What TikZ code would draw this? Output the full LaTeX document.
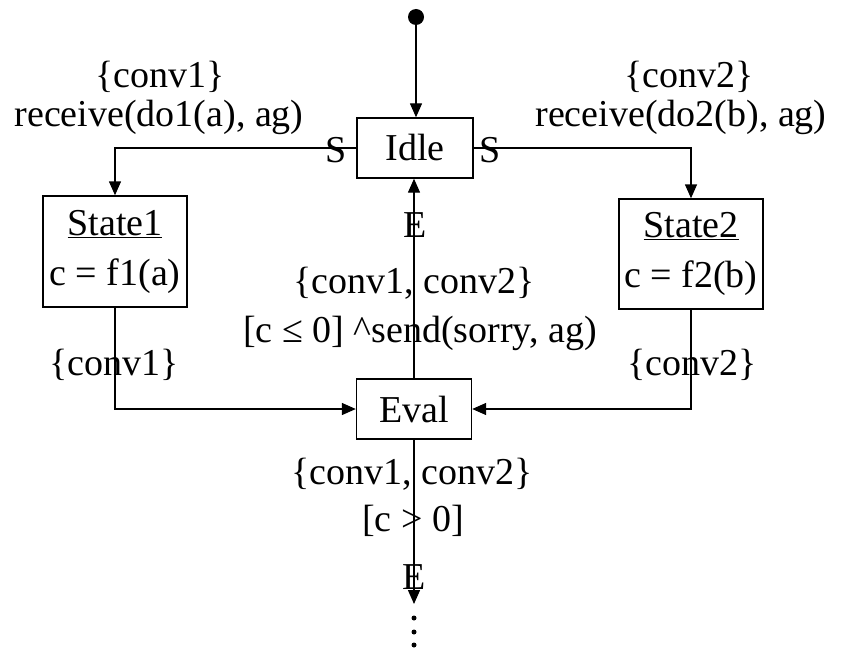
\documentclass[tikz,border=0pt]{standalone}
\usepackage{fontspec}
\setmainfont{Liberation Serif}
\usetikzlibrary{arrows.meta}
\begin{document}
\begin{tikzpicture}[x=1pt,y=-1pt,
  box/.style={draw, line width=1.4pt, rectangle, inner sep=0pt, font=\fontsize{38}{50}\selectfont, align=center},
  lbl/.style={inner sep=0pt, font=\fontsize{38}{44}\selectfont, align=center},
  arr/.style={line width=1.4pt, -{Triangle[length=14pt,width=12pt]}},
  dotn/.style={circle, fill=black, inner sep=0pt}]
\useasboundingbox (0,0) rectangle (842,650);

\node[dotn, minimum size=16pt] (init) at (416,17) {};
\node[box, minimum width=116pt, minimum height=60pt] (idle) at (415,148) {Idle};
\node[box, minimum width=144pt, minimum height=111pt] (s1) at (115,251.5) {\underline{State1}\\c = f1(a)};
\node[box, minimum width=144pt, minimum height=110pt] (s2) at (691,254) {\underline{State2}\\c = f2(b)};
\node[box, minimum width=115pt, minimum height=60pt] (eval) at (414,409) {Eval};

\coordinate (endpt) at (414,604);
\node[dotn, minimum size=5pt] (d1) at (414,618) {};
\node[dotn, minimum size=5pt] (d2) at (414,632) {};
\node[dotn, minimum size=5pt] (d3) at (414,645) {};

\draw[arr] (init) -- (init |- idle.north);
\draw[arr] (idle.west) -| (s1.north);
\draw[arr] (idle.east) -| (s2.north);
\draw[arr] (s1.south) |- (eval.west);
\draw[arr] (s2.south) |- (eval.east);
\draw[arr] (eval.north) -- (eval.north |- idle.south);
\draw[arr] (eval.south) -- (endpt);

\node[lbl] (l1a) at (160,77) {\{conv1\}};
\node[lbl] (l1b) at (159,117) {receive(do1(a), ag)};
\node[lbl] (l2a) at (689,77) {\{conv2\}};
\node[lbl] (l2b) at (681,117) {receive(do2(b), ag)};
\node[lbl] (sl) at (336,150) {S};
\node[lbl] (sr) at (490,150) {S};
\node[lbl] (eu) at (415,225) {E};
\node[lbl] (m1) at (414,283) {\{conv1, conv2\}};
\node[lbl] (m2) at (420,333) {[c ≤ 0] \^{}send(sorry, ag)};
\node[lbl] (c1) at (114,365) {\{conv1\}};
\node[lbl] (c2) at (692,365) {\{conv2\}};
\node[lbl] (b1) at (412,474) {\{conv1, conv2\}};
\node[lbl] (b2) at (413,521) {[c > 0]};
\node[lbl] (eb) at (414,577) {E};
\end{tikzpicture}
\end{document}
